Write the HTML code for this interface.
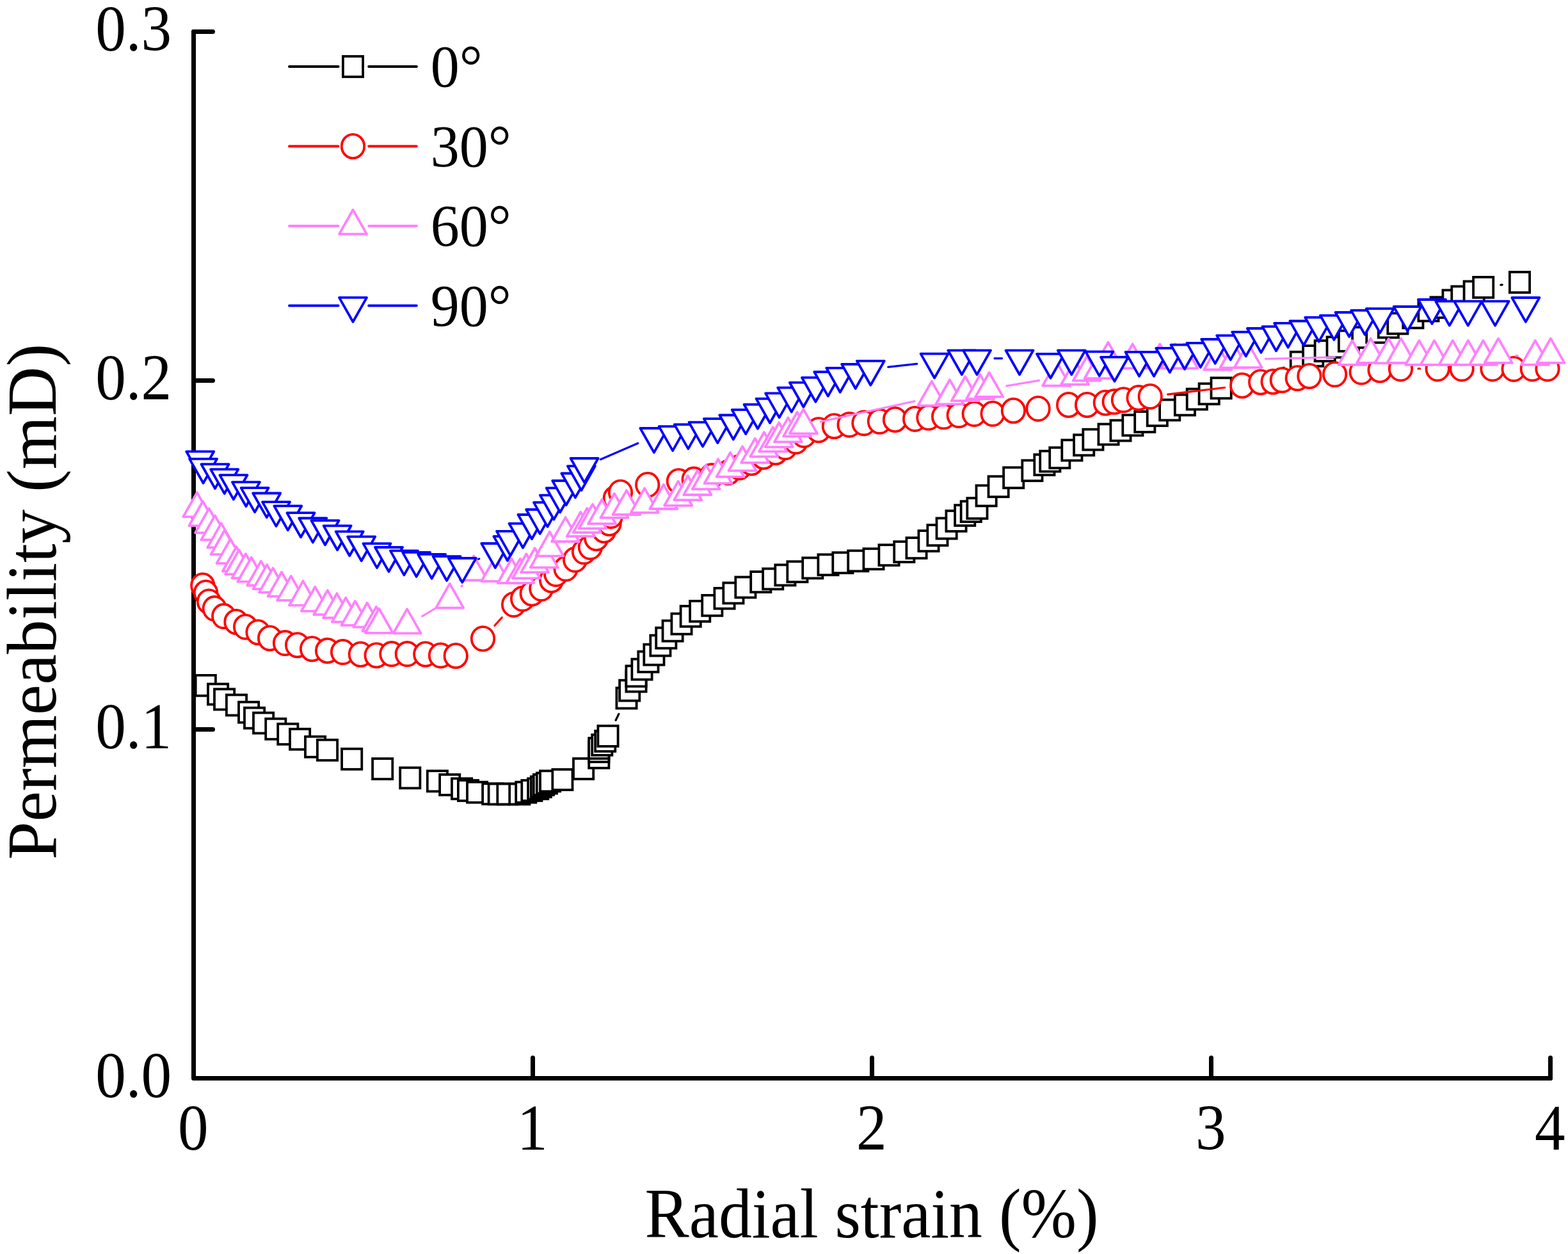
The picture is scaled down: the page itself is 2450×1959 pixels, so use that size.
<!DOCTYPE html>
<html lang="en"><head><meta charset="utf-8"><title>Permeability vs radial strain</title>
<style>
html,body{margin:0;padding:0;background:#fff;}
body{width:2450px;height:1959px;overflow:hidden;}
svg{display:block;}
text{font-family:"Liberation Serif", "DejaVu Serif", serif;fill:#000;}
.tk{font-size:102.4px;}
.ti{font-size:109.6px;}
.ti2{font-size:110.2px;}
.lg{font-size:93.8px;}
.ax{stroke:#000;stroke-width:7;fill:none;stroke-linecap:round;stroke-linejoin:round;}
.m{fill:#fff;stroke-width:3.8;stroke-linejoin:miter;}
.l{fill:none;stroke-width:3.2;stroke-linecap:round;}
.t{stroke-linejoin:round;}
.ll{stroke-width:3.9;}
.s0{stroke:#000;}.s1{stroke:#f00;}.s2{stroke:#ff80ff;}.s3{stroke:#00f;}
</style></head><body>
<svg width="2450" height="1959" viewBox="0 0 2450 1959" role="img" aria-label="Permeability (mD) versus radial strain (%) for bedding angles 0°, 30°, 60° and 90°">
<rect width="2450" height="1959" fill="#fff"/>
<g class="ax">
<path d="M302.5 49.5 V1684.5 H2422.5"/>
<path d="M302.5 1139.5 H332.5"/>
<path d="M302.5 594.5 H332.5"/>
<path d="M302.5 49.5 H332.5"/>
<path d="M832.5 1684.5 V1652.5"/>
<path d="M1362.5 1684.5 V1652.5"/>
<path d="M1892.5 1684.5 V1652.5"/>
<path d="M2422.5 1684.5 V1652.5"/>
</g>
<text class="tk" transform="translate(149.2 1714) scale(0.93 1)">0.0</text>
<text class="tk" transform="translate(149.2 1169) scale(0.93 1)">0.1</text>
<text class="tk" transform="translate(149.2 624) scale(0.93 1)">0.2</text>
<text class="tk" transform="translate(149.2 79) scale(0.93 1)">0.3</text>
<text class="tk" transform="translate(301.8 1796) scale(0.93 1)" text-anchor="middle">0</text>
<text class="tk" transform="translate(831.8 1796) scale(0.93 1)" text-anchor="middle">1</text>
<text class="tk" transform="translate(1361.8 1796) scale(0.93 1)" text-anchor="middle">2</text>
<text class="tk" transform="translate(1891.8 1796) scale(0.93 1)" text-anchor="middle">3</text>
<text class="tk" transform="translate(2421.8 1796) scale(0.93 1)" text-anchor="middle">4</text>
<text class="ti" transform="translate(1007.6 1933) scale(0.947 1)">Radial strain (%)</text>
<text class="ti2" transform="translate(87 1343) rotate(-90) scale(0.972 1)">Permeability (mD)</text>
<g>
<path class="l s0" d="M962.1 1125.2L966.9 1115.3M1934.3 597.8L2006.2 574.3M2344.9 445.1L2347.2 444.8"/>
<rect class="m s0" x="305.7" y="1054.9" width="31.2" height="32"/>
<rect class="m s0" x="325" y="1068.5" width="31.2" height="32"/>
<rect class="m s0" x="335" y="1076.5" width="31.2" height="32"/>
<rect class="m s0" x="353.9" y="1085.5" width="31.2" height="32"/>
<rect class="m s0" x="373" y="1096.7" width="31.2" height="32"/>
<rect class="m s0" x="382" y="1105.7" width="31.2" height="32"/>
<rect class="m s0" x="396" y="1113.5" width="31.2" height="32"/>
<rect class="m s0" x="415.2" y="1122.8" width="31.2" height="32"/>
<rect class="m s0" x="434.2" y="1130.8" width="31.2" height="32"/>
<rect class="m s0" x="453" y="1138.8" width="31.2" height="32"/>
<rect class="m s0" x="477" y="1150.7" width="31.2" height="32"/>
<rect class="m s0" x="495.9" y="1155.8" width="31.2" height="32"/>
<rect class="m s0" x="534.1" y="1169.8" width="31.2" height="32"/>
<rect class="m s0" x="582.1" y="1185.1" width="31.2" height="32"/>
<rect class="m s0" x="625.2" y="1199.3" width="31.2" height="32"/>
<rect class="m s0" x="667.8" y="1204.3" width="31.2" height="32"/>
<rect class="m s0" x="687.1" y="1210" width="31.2" height="32"/>
<rect class="m s0" x="706" y="1216.2" width="31.2" height="32"/>
<rect class="m s0" x="715.9" y="1219" width="31.2" height="32"/>
<rect class="m s0" x="730" y="1221.7" width="31.2" height="32"/>
<rect class="m s0" x="754.1" y="1224.2" width="31.2" height="32"/>
<rect class="m s0" x="763.6" y="1224.5" width="31.2" height="32"/>
<rect class="m s0" x="777.3" y="1224.5" width="31.2" height="32"/>
<rect class="m s0" x="796.2" y="1224.5" width="31.2" height="32"/>
<rect class="m s0" x="806.2" y="1221.7" width="31.2" height="32"/>
<rect class="m s0" x="815.3" y="1219" width="31.2" height="32"/>
<rect class="m s0" x="825.1" y="1216.2" width="31.2" height="32"/>
<rect class="m s0" x="829.8" y="1213.2" width="31.2" height="32"/>
<rect class="m s0" x="833.8" y="1210" width="31.2" height="32"/>
<rect class="m s0" x="838.8" y="1207.5" width="31.2" height="32"/>
<rect class="m s0" x="844" y="1204.3" width="31.2" height="32"/>
<rect class="m s0" x="863.3" y="1202" width="31.2" height="32"/>
<rect class="m s0" x="896" y="1185" width="31.2" height="32"/>
<rect class="m s0" x="920.2" y="1167.8" width="31.2" height="32"/>
<rect class="m s0" x="920.2" y="1158.3" width="31.2" height="32"/>
<rect class="m s0" x="920.2" y="1153" width="31.2" height="32"/>
<rect class="m s0" x="925.2" y="1147.8" width="31.2" height="32"/>
<rect class="m s0" x="930.1" y="1141.8" width="31.2" height="32"/>
<rect class="m s0" x="934.4" y="1133.9" width="31.2" height="32"/>
<rect class="m s0" x="963.4" y="1074.6" width="31.2" height="32"/>
<rect class="m s0" x="968.1" y="1062.7" width="31.2" height="32"/>
<rect class="m s0" x="978.4" y="1048.5" width="31.2" height="32"/>
<rect class="m s0" x="978.4" y="1040.3" width="31.2" height="32"/>
<rect class="m s0" x="987.4" y="1029.6" width="31.2" height="32"/>
<rect class="m s0" x="997.3" y="1017.8" width="31.2" height="32"/>
<rect class="m s0" x="1006.3" y="1006.7" width="31.2" height="32"/>
<rect class="m s0" x="1016.3" y="992.5" width="31.2" height="32"/>
<rect class="m s0" x="1025.2" y="980.7" width="31.2" height="32"/>
<rect class="m s0" x="1035.5" y="969.6" width="31.2" height="32"/>
<rect class="m s0" x="1049.4" y="958.6" width="31.2" height="32"/>
<rect class="m s0" x="1063.6" y="946.8" width="31.2" height="32"/>
<rect class="m s0" x="1078.1" y="938.9" width="31.2" height="32"/>
<rect class="m s0" x="1097.2" y="929.9" width="31.2" height="32"/>
<rect class="m s0" x="1116.4" y="918.8" width="31.2" height="32"/>
<rect class="m s0" x="1130.3" y="910.5" width="31.2" height="32"/>
<rect class="m s0" x="1149.3" y="901.5" width="31.2" height="32"/>
<rect class="m s0" x="1173.2" y="893.1" width="31.2" height="32"/>
<rect class="m s0" x="1192.1" y="888.4" width="31.2" height="32"/>
<rect class="m s0" x="1211.3" y="882.4" width="31.2" height="32"/>
<rect class="m s0" x="1230.3" y="877.2" width="31.2" height="32"/>
<rect class="m s0" x="1254.2" y="871.4" width="31.2" height="32"/>
<rect class="m s0" x="1278.4" y="866.3" width="31.2" height="32"/>
<rect class="m s0" x="1301.3" y="863.2" width="31.2" height="32"/>
<rect class="m s0" x="1325.2" y="860.3" width="31.2" height="32"/>
<rect class="m s0" x="1349.4" y="857.2" width="31.2" height="32"/>
<rect class="m s0" x="1373.4" y="851.2" width="31.2" height="32"/>
<rect class="m s0" x="1397.2" y="846.1" width="31.2" height="32"/>
<rect class="m s0" x="1416.4" y="840.1" width="31.2" height="32"/>
<rect class="m s0" x="1435.4" y="829.1" width="31.2" height="32"/>
<rect class="m s0" x="1449.3" y="820.1" width="31.2" height="32"/>
<rect class="m s0" x="1463.5" y="809.5" width="31.2" height="32"/>
<rect class="m s0" x="1478.4" y="798" width="31.2" height="32"/>
<rect class="m s0" x="1492.1" y="789.1" width="31.2" height="32"/>
<rect class="m s0" x="1501.6" y="783.1" width="31.2" height="32"/>
<rect class="m s0" x="1511.3" y="778.1" width="31.2" height="32"/>
<rect class="m s0" x="1525.5" y="758.4" width="31.2" height="32"/>
<rect class="m s0" x="1544.5" y="744.2" width="31.2" height="32"/>
<rect class="m s0" x="1568.1" y="730.3" width="31.2" height="32"/>
<rect class="m s0" x="1597.3" y="719.2" width="31.2" height="32"/>
<rect class="m s0" x="1616.3" y="710.1" width="31.2" height="32"/>
<rect class="m s0" x="1625.2" y="704.6" width="31.2" height="32"/>
<rect class="m s0" x="1640.2" y="699.2" width="31.2" height="32"/>
<rect class="m s0" x="1659.3" y="687.4" width="31.2" height="32"/>
<rect class="m s0" x="1678.1" y="679.3" width="31.2" height="32"/>
<rect class="m s0" x="1692.3" y="670.7" width="31.2" height="32"/>
<rect class="m s0" x="1716.4" y="662.5" width="31.2" height="32"/>
<rect class="m s0" x="1735.4" y="656.6" width="31.2" height="32"/>
<rect class="m s0" x="1754.3" y="648.3" width="31.2" height="32"/>
<rect class="m s0" x="1773.2" y="643" width="31.2" height="32"/>
<rect class="m s0" x="1792.7" y="633.2" width="31.2" height="32"/>
<rect class="m s0" x="1812.1" y="624.5" width="31.2" height="32"/>
<rect class="m s0" x="1835.8" y="616.6" width="31.2" height="32"/>
<rect class="m s0" x="1854.7" y="607.6" width="31.2" height="32"/>
<rect class="m s0" x="1873.6" y="599.3" width="31.2" height="32"/>
<rect class="m s0" x="1892.5" y="590.3" width="31.2" height="32"/>
<rect class="m s0" x="2016.7" y="549.7" width="31.2" height="32"/>
<rect class="m s0" x="2036.1" y="540.1" width="31.2" height="32"/>
<rect class="m s0" x="2054.6" y="532.2" width="31.2" height="32"/>
<rect class="m s0" x="2073.5" y="526.4" width="31.2" height="32"/>
<rect class="m s0" x="2091.9" y="516.7" width="31.2" height="32"/>
<rect class="m s0" x="2113.1" y="511.2" width="31.2" height="32"/>
<rect class="m s0" x="2135.3" y="503.3" width="31.2" height="32"/>
<rect class="m s0" x="2153.8" y="495.4" width="31.2" height="32"/>
<rect class="m s0" x="2168.3" y="489.4" width="31.2" height="32"/>
<rect class="m s0" x="2192.3" y="480.4" width="31.2" height="32"/>
<rect class="m s0" x="2216.4" y="469.5" width="31.2" height="32"/>
<rect class="m s0" x="2235.5" y="464.3" width="31.2" height="32"/>
<rect class="m s0" x="2254.4" y="453.3" width="31.2" height="32"/>
<rect class="m s0" x="2268.3" y="447.4" width="31.2" height="32"/>
<rect class="m s0" x="2287.6" y="439.5" width="31.2" height="32"/>
<rect class="m s0" x="2302.1" y="432.9" width="31.2" height="32"/>
<rect class="m s0" x="2358.9" y="425" width="31.2" height="32"/>
</g>
<g>
<path class="l s1" d="M772.9 977.3L784.2 964.8M1824.5 616.2L1913.5 605.5M2216 575.9L2218.7 575.9"/>
<ellipse class="m s1" cx="316.8" cy="914.8" rx="17.7" ry="18.6"/>
<ellipse class="m s1" cx="321.6" cy="926" rx="17.7" ry="18.6"/>
<ellipse class="m s1" cx="326.5" cy="939.9" rx="17.7" ry="18.6"/>
<ellipse class="m s1" cx="335.3" cy="950.6" rx="17.7" ry="18.6"/>
<ellipse class="m s1" cx="349.7" cy="962.6" rx="17.7" ry="18.6"/>
<ellipse class="m s1" cx="369" cy="971.5" rx="17.7" ry="18.6"/>
<ellipse class="m s1" cx="383.6" cy="979.3" rx="17.7" ry="18.6"/>
<ellipse class="m s1" cx="403.1" cy="987.7" rx="17.7" ry="18.6"/>
<ellipse class="m s1" cx="421.6" cy="997" rx="17.7" ry="18.6"/>
<ellipse class="m s1" cx="445.5" cy="1004.6" rx="17.7" ry="18.6"/>
<ellipse class="m s1" cx="464.6" cy="1007.7" rx="17.7" ry="18.6"/>
<ellipse class="m s1" cx="487.6" cy="1013.7" rx="17.7" ry="18.6"/>
<ellipse class="m s1" cx="511.6" cy="1016.5" rx="17.7" ry="18.6"/>
<ellipse class="m s1" cx="535.6" cy="1018.6" rx="17.7" ry="18.6"/>
<ellipse class="m s1" cx="563.4" cy="1022.2" rx="17.7" ry="18.6"/>
<ellipse class="m s1" cx="588.2" cy="1023.7" rx="17.7" ry="18.6"/>
<ellipse class="m s1" cx="611.9" cy="1021.6" rx="17.7" ry="18.6"/>
<ellipse class="m s1" cx="636.3" cy="1021.6" rx="17.7" ry="18.6"/>
<ellipse class="m s1" cx="664.8" cy="1022" rx="17.7" ry="18.6"/>
<ellipse class="m s1" cx="688.5" cy="1023.9" rx="17.7" ry="18.6"/>
<ellipse class="m s1" cx="712.2" cy="1024.5" rx="17.7" ry="18.6"/>
<ellipse class="m s1" cx="754.5" cy="997.7" rx="17.7" ry="18.6"/>
<ellipse class="m s1" cx="802.6" cy="944.4" rx="17.7" ry="18.6"/>
<ellipse class="m s1" cx="816.6" cy="935.3" rx="17.7" ry="18.6"/>
<ellipse class="m s1" cx="831.2" cy="927" rx="17.7" ry="18.6"/>
<ellipse class="m s1" cx="845.8" cy="919.3" rx="17.7" ry="18.6"/>
<ellipse class="m s1" cx="861.6" cy="906.2" rx="17.7" ry="18.6"/>
<ellipse class="m s1" cx="868.8" cy="896.6" rx="17.7" ry="18.6"/>
<ellipse class="m s1" cx="884.1" cy="888.3" rx="17.7" ry="18.6"/>
<ellipse class="m s1" cx="898.6" cy="874.3" rx="17.7" ry="18.6"/>
<ellipse class="m s1" cx="912.5" cy="861.8" rx="17.7" ry="18.6"/>
<ellipse class="m s1" cx="922.4" cy="854.6" rx="17.7" ry="18.6"/>
<ellipse class="m s1" cx="931.7" cy="840.7" rx="17.7" ry="18.6"/>
<ellipse class="m s1" cx="943.9" cy="828.5" rx="17.7" ry="18.6"/>
<ellipse class="m s1" cx="952.1" cy="817.5" rx="17.7" ry="18.6"/>
<ellipse class="m s1" cx="954.5" cy="805.9" rx="17.7" ry="18.6"/>
<ellipse class="m s1" cx="961.3" cy="778.3" rx="17.7" ry="18.6"/>
<ellipse class="m s1" cx="969.5" cy="769.2" rx="17.7" ry="18.6"/>
<ellipse class="m s1" cx="1011.7" cy="757.4" rx="17.7" ry="18.6"/>
<ellipse class="m s1" cx="1060.4" cy="751.8" rx="17.7" ry="18.6"/>
<ellipse class="m s1" cx="1084.1" cy="749.1" rx="17.7" ry="18.6"/>
<ellipse class="m s1" cx="1111.9" cy="743.6" rx="17.7" ry="18.6"/>
<ellipse class="m s1" cx="1137.9" cy="738" rx="17.7" ry="18.6"/>
<ellipse class="m s1" cx="1155.2" cy="730.1" rx="17.7" ry="18.6"/>
<ellipse class="m s1" cx="1174.2" cy="723" rx="17.7" ry="18.6"/>
<ellipse class="m s1" cx="1193.1" cy="713.5" rx="17.7" ry="18.6"/>
<ellipse class="m s1" cx="1212" cy="706.5" rx="17.7" ry="18.6"/>
<ellipse class="m s1" cx="1227" cy="698.6" rx="17.7" ry="18.6"/>
<ellipse class="m s1" cx="1243.6" cy="689.6" rx="17.7" ry="18.6"/>
<ellipse class="m s1" cx="1256.2" cy="679.6" rx="17.7" ry="18.6"/>
<ellipse class="m s1" cx="1279.1" cy="671.7" rx="17.7" ry="18.6"/>
<ellipse class="m s1" cx="1303.4" cy="665.7" rx="17.7" ry="18.6"/>
<ellipse class="m s1" cx="1327.1" cy="663.4" rx="17.7" ry="18.6"/>
<ellipse class="m s1" cx="1349.9" cy="660.9" rx="17.7" ry="18.6"/>
<ellipse class="m s1" cx="1374.4" cy="658.3" rx="17.7" ry="18.6"/>
<ellipse class="m s1" cx="1398.5" cy="655.5" rx="17.7" ry="18.6"/>
<ellipse class="m s1" cx="1429.6" cy="654.4" rx="17.7" ry="18.6"/>
<ellipse class="m s1" cx="1450.9" cy="652.3" rx="17.7" ry="18.6"/>
<ellipse class="m s1" cx="1474.6" cy="650.8" rx="17.7" ry="18.6"/>
<ellipse class="m s1" cx="1498.2" cy="648.6" rx="17.7" ry="18.6"/>
<ellipse class="m s1" cx="1522.2" cy="646.6" rx="17.7" ry="18.6"/>
<ellipse class="m s1" cx="1551.1" cy="646.3" rx="17.7" ry="18.6"/>
<ellipse class="m s1" cx="1583.4" cy="641.5" rx="17.7" ry="18.6"/>
<ellipse class="m s1" cx="1622.1" cy="638.4" rx="17.7" ry="18.6"/>
<ellipse class="m s1" cx="1669.6" cy="632.5" rx="17.7" ry="18.6"/>
<ellipse class="m s1" cx="1698.6" cy="632.5" rx="17.7" ry="18.6"/>
<ellipse class="m s1" cx="1727.3" cy="629.2" rx="17.7" ry="18.6"/>
<ellipse class="m s1" cx="1741.2" cy="627.6" rx="17.7" ry="18.6"/>
<ellipse class="m s1" cx="1755.4" cy="624.8" rx="17.7" ry="18.6"/>
<ellipse class="m s1" cx="1779.1" cy="621.5" rx="17.7" ry="18.6"/>
<ellipse class="m s1" cx="1797.2" cy="619.4" rx="17.7" ry="18.6"/>
<ellipse class="m s1" cx="1940.8" cy="602.2" rx="17.7" ry="18.6"/>
<ellipse class="m s1" cx="1969.7" cy="597" rx="17.7" ry="18.6"/>
<ellipse class="m s1" cx="1989.1" cy="596.2" rx="17.7" ry="18.6"/>
<ellipse class="m s1" cx="2003.3" cy="593.8" rx="17.7" ry="18.6"/>
<ellipse class="m s1" cx="2027.3" cy="590.7" rx="17.7" ry="18.6"/>
<ellipse class="m s1" cx="2045.9" cy="587.5" rx="17.7" ry="18.6"/>
<ellipse class="m s1" cx="2085.6" cy="584.8" rx="17.7" ry="18.6"/>
<ellipse class="m s1" cx="2127.2" cy="581.1" rx="17.7" ry="18.6"/>
<ellipse class="m s1" cx="2156.1" cy="578" rx="17.7" ry="18.6"/>
<ellipse class="m s1" cx="2188.5" cy="575.9" rx="17.7" ry="18.6"/>
<ellipse class="m s1" cx="2246.2" cy="575.9" rx="17.7" ry="18.6"/>
<ellipse class="m s1" cx="2284.1" cy="575.9" rx="17.7" ry="18.6"/>
<ellipse class="m s1" cx="2332" cy="575.9" rx="17.7" ry="18.6"/>
<ellipse class="m s1" cx="2365.2" cy="576.4" rx="17.7" ry="18.6"/>
<ellipse class="m s1" cx="2394.3" cy="575.9" rx="17.7" ry="18.6"/>
<ellipse class="m s1" cx="2418" cy="575.9" rx="17.7" ry="18.6"/>
</g>
<g>
<path class="l s2" d="M659.8 962.6L679.1 951.1M720.8 916.2L722.2 914.6M1282.3 658.8L1428.9 626.8M1572.8 602.8L1623.5 594.4M1977.7 560.7L2085.4 558M2368.6 555.6L2371.3 555.8"/>
<path class="m t s2" d="M307.8 769.4L329.3 807.3H286.3Z"/>
<path class="m t s2" d="M316.9 783.3L338.4 821.3H295.4Z"/>
<path class="m t s2" d="M326.6 794.4L348.1 832.4H305.1Z"/>
<path class="m t s2" d="M335.8 805.4L357.3 843.4H314.3Z"/>
<path class="m t s2" d="M345.7 817.4L367.2 855.4H324.2Z"/>
<path class="m t s2" d="M351 828.3L372.5 866.2H329.5Z"/>
<path class="m t s2" d="M360 842.2L381.5 880.1H338.5Z"/>
<path class="m t s2" d="M369.4 854.3L390.9 892.3H347.9Z"/>
<path class="m t s2" d="M373.5 859.2L395 897.1H352Z"/>
<path class="m t s2" d="M383.9 865.2L405.4 903.1H362.4Z"/>
<path class="m t s2" d="M392.8 870.7L414.3 908.7H371.3Z"/>
<path class="m t s2" d="M407.8 876.6L429.3 914.5H386.3Z"/>
<path class="m t s2" d="M417.1 882.1L438.6 920.1H395.6Z"/>
<path class="m t s2" d="M426.5 887.4L448 925.4H405Z"/>
<path class="m t s2" d="M440.1 893.7L461.6 931.7H418.6Z"/>
<path class="m t s2" d="M454.7 900L476.2 937.9H433.2Z"/>
<path class="m t s2" d="M473.5 907.6L495 945.6H452Z"/>
<path class="m t s2" d="M492.3 916.7L513.8 954.6H470.8Z"/>
<path class="m t s2" d="M511.8 922.2L533.3 960.2H490.3Z"/>
<path class="m t s2" d="M526.4 927.1L547.9 965.1H504.9Z"/>
<path class="m t s2" d="M540.3 933.7L561.8 971.6H518.8Z"/>
<path class="m t s2" d="M554.9 939L576.4 976.9H533.4Z"/>
<path class="m t s2" d="M573.7 941.8L595.2 979.7H552.2Z"/>
<path class="m t s2" d="M587.8 947.9L609.3 985.8H566.3Z"/>
<path class="m t s2" d="M592.3 950.8L613.8 988.8H570.8Z"/>
<path class="m t s2" d="M636.1 951.4L657.6 989.3H614.6Z"/>
<path class="m t s2" d="M702.7 911.7L724.2 949.6H681.2Z"/>
<path class="m t s2" d="M740.3 868.5L761.8 906.5H718.8Z"/>
<path class="m t s2" d="M773.7 870.2L795.2 908.1H752.2Z"/>
<path class="m t s2" d="M799.4 872.8L820.9 910.8H777.9Z"/>
<path class="m t s2" d="M812.7 873L834.2 910.9H791.2Z"/>
<path class="m t s2" d="M822.4 865.3L843.9 903.3H800.9Z"/>
<path class="m t s2" d="M835.6 856.3L857.1 894.2H814.1Z"/>
<path class="m t s2" d="M850.3 848.6L871.8 886.6H828.8Z"/>
<path class="m t s2" d="M858.9 830.7L880.4 868.7H837.4Z"/>
<path class="m t s2" d="M883.6 808.1L905.1 846H862.1Z"/>
<path class="m t s2" d="M907.2 800L928.7 837.9H885.7Z"/>
<path class="m t s2" d="M917.3 793.9L938.8 831.9H895.8Z"/>
<path class="m t s2" d="M926 787.8L947.5 825.7H904.5Z"/>
<path class="m t s2" d="M940.6 780.2L962.1 818.2H919.1Z"/>
<path class="m t s2" d="M960 771L981.5 808.9H938.5Z"/>
<path class="m t s2" d="M979 766.1L1000.5 804H957.5Z"/>
<path class="m t s2" d="M1007.2 762.8L1028.7 800.8H985.7Z"/>
<path class="m t s2" d="M1036.8 757L1058.3 795H1015.3Z"/>
<path class="m t s2" d="M1059.7 751.8L1081.2 789.8H1038.2Z"/>
<path class="m t s2" d="M1074.8 743.2L1096.3 781.2H1053.3Z"/>
<path class="m t s2" d="M1089.8 735L1111.3 773H1068.3Z"/>
<path class="m t s2" d="M1103.2 726.2L1124.7 764.2H1081.7Z"/>
<path class="m t s2" d="M1122.1 717.2L1143.6 755.2H1100.6Z"/>
<path class="m t s2" d="M1141.1 707L1162.6 744.9H1119.6Z"/>
<path class="m t s2" d="M1160 697.5L1181.5 735.4H1138.5Z"/>
<path class="m t s2" d="M1179.7 684.9L1201.2 722.8H1158.2Z"/>
<path class="m t s2" d="M1193.9 675.3L1215.4 713.3H1172.4Z"/>
<path class="m t s2" d="M1207.6 667.4L1229.1 705.4H1186.1Z"/>
<path class="m t s2" d="M1217.2 660.3L1238.7 698.3H1195.7Z"/>
<path class="m t s2" d="M1231.4 652.4L1252.9 690.4H1209.9Z"/>
<path class="m t s2" d="M1245.6 643.8L1267.1 681.7H1224.1Z"/>
<path class="m t s2" d="M1255.4 639.3L1276.9 677.3H1233.9Z"/>
<path class="m t s2" d="M1455.8 595.6L1477.3 633.6H1434.3Z"/>
<path class="m t s2" d="M1483.9 593.3L1505.4 631.3H1462.4Z"/>
<path class="m t s2" d="M1508.2 588.3L1529.7 626.2H1486.7Z"/>
<path class="m t s2" d="M1531.5 585.1L1553 623.1H1510Z"/>
<path class="m t s2" d="M1545.7 582L1567.2 619.9H1524.2Z"/>
<path class="m t s2" d="M1650.6 564.6L1672.1 602.6H1629.1Z"/>
<path class="m t s2" d="M1679.5 562.7L1701 600.7H1658Z"/>
<path class="m t s2" d="M1698.3 556.7L1719.8 594.7H1676.8Z"/>
<path class="m t s2" d="M1716.1 553.2L1737.6 591.2H1694.6Z"/>
<path class="m t s2" d="M1731.5 534.7L1753 572.7H1710Z"/>
<path class="m t s2" d="M1769.6 537.5L1791.1 575.4H1748.1Z"/>
<path class="m t s2" d="M1812.4 537.5L1833.9 575.4H1790.9Z"/>
<path class="m t s2" d="M1836.1 537.5L1857.6 575.4H1814.6Z"/>
<path class="m t s2" d="M1850 537.5L1871.5 575.4H1828.5Z"/>
<path class="m t s2" d="M1902.9 539.6L1924.4 577.5H1881.4Z"/>
<path class="m t s2" d="M1927.9 536.8L1949.4 574.7H1906.4Z"/>
<path class="m t s2" d="M1950.2 536.1L1971.7 574.1H1928.7Z"/>
<path class="m t s2" d="M2112.9 532L2134.4 569.9H2091.4Z"/>
<path class="m t s2" d="M2141.7 528.8L2163.2 566.8H2120.2Z"/>
<path class="m t s2" d="M2169.7 529.3L2191.2 567.3H2148.2Z"/>
<path class="m t s2" d="M2189.1 528.8L2210.6 566.8H2167.6Z"/>
<path class="m t s2" d="M2217.5 532L2239 569.9H2196Z"/>
<path class="m t s2" d="M2241.1 532L2262.6 569.9H2219.6Z"/>
<path class="m t s2" d="M2269.9 532L2291.4 569.9H2248.4Z"/>
<path class="m t s2" d="M2294 532L2315.5 569.9H2272.5Z"/>
<path class="m t s2" d="M2317.5 532L2339 569.9H2296Z"/>
<path class="m t s2" d="M2341.2 528.8L2362.7 566.8H2319.7Z"/>
<path class="m t s2" d="M2398.8 532L2420.3 569.9H2377.3Z"/>
<path class="m t s2" d="M2422.9 528.8L2444.4 566.8H2401.4Z"/>
</g>
<g>
<path class="l s3" d="M747.4 873.4L748.7 872.9M938.3 717.7L996.7 692.5M1387.7 573.4L1432.7 568.3M1554 559.9L1565.5 559.9"/>
<path class="m t s3" d="M312.7 743.3L334.2 705.3H291.2Z"/>
<path class="m t s3" d="M317.6 754.8L339.1 716.9H296.1Z"/>
<path class="m t s3" d="M336 763.2L357.5 725.2H314.5Z"/>
<path class="m t s3" d="M350.7 771.1L372.2 733.2H329.2Z"/>
<path class="m t s3" d="M364.9 780.2L386.4 742.2H343.4Z"/>
<path class="m t s3" d="M384.4 791L405.9 753.1H362.9Z"/>
<path class="m t s3" d="M398.1 800.1L419.6 762.1H376.6Z"/>
<path class="m t s3" d="M416.7 808.4L438.2 770.5H395.2Z"/>
<path class="m t s3" d="M431.5 822.1L453 784.1H410Z"/>
<path class="m t s3" d="M449.8 828.2L471.3 790.3H428.3Z"/>
<path class="m t s3" d="M470 839.2L491.5 801.2H448.5Z"/>
<path class="m t s3" d="M488.8 847.4L510.3 809.5H467.3Z"/>
<path class="m t s3" d="M508 851.2L529.5 813.2H486.5Z"/>
<path class="m t s3" d="M527.1 859.2L548.6 821.3H505.6Z"/>
<path class="m t s3" d="M546.2 868.3L567.7 830.3H524.7Z"/>
<path class="m t s3" d="M564.7 876.2L586.2 838.3H543.2Z"/>
<path class="m t s3" d="M589 887.1L610.5 849.1H567.5Z"/>
<path class="m t s3" d="M607.5 893L629 855H586Z"/>
<path class="m t s3" d="M631.4 898.4L652.9 860.4H609.9Z"/>
<path class="m t s3" d="M650.6 900.9L672.1 862.9H629.1Z"/>
<path class="m t s3" d="M674.6 903.8L696.1 865.9H653.1Z"/>
<path class="m t s3" d="M698 907L719.5 869.1H676.5Z"/>
<path class="m t s3" d="M722.3 909.9L743.8 872H700.8Z"/>
<path class="m t s3" d="M773.8 887L795.3 849H752.3Z"/>
<path class="m t s3" d="M792.9 875.8L814.4 837.9H771.4Z"/>
<path class="m t s3" d="M797.5 867.9L819 829.9H776Z"/>
<path class="m t s3" d="M817 855.8L838.5 817.8H795.5Z"/>
<path class="m t s3" d="M831 842L852.5 804H809.5Z"/>
<path class="m t s3" d="M843.7 833.9L865.2 796H822.2Z"/>
<path class="m t s3" d="M855.5 822.9L877 784.9H834Z"/>
<path class="m t s3" d="M865.4 811.5L886.9 773.6H843.9Z"/>
<path class="m t s3" d="M875.2 800.3L896.7 762.4H853.7Z"/>
<path class="m t s3" d="M884.7 789L906.2 751H863.2Z"/>
<path class="m t s3" d="M898.9 777.4L920.4 739.5H877.4Z"/>
<path class="m t s3" d="M908.4 766.1L929.9 728.1H886.9Z"/>
<path class="m t s3" d="M913.1 753.9L934.6 716H891.6Z"/>
<path class="m t s3" d="M1021.9 706.9L1043.4 669H1000.4Z"/>
<path class="m t s3" d="M1051.1 704.1L1072.6 666.1H1029.6Z"/>
<path class="m t s3" d="M1075.3 701.1L1096.8 663.1H1053.8Z"/>
<path class="m t s3" d="M1098 697.6L1119.5 659.7H1076.5Z"/>
<path class="m t s3" d="M1121.3 692.1L1142.8 654.1H1099.8Z"/>
<path class="m t s3" d="M1145.8 686.5L1167.3 648.5H1124.3Z"/>
<path class="m t s3" d="M1165.2 678.1L1186.7 640.2H1143.7Z"/>
<path class="m t s3" d="M1184 669.7L1205.5 631.8H1162.5Z"/>
<path class="m t s3" d="M1203 660.8L1224.5 622.8H1181.5Z"/>
<path class="m t s3" d="M1217.6 652.4L1239.1 614.4H1196.1Z"/>
<path class="m t s3" d="M1236.7 643.6L1258.2 605.6H1215.2Z"/>
<path class="m t s3" d="M1255.4 635.7L1276.9 597.7H1233.9Z"/>
<path class="m t s3" d="M1274.4 627.8L1295.9 589.8H1252.9Z"/>
<path class="m t s3" d="M1293.8 618.9L1315.3 581H1272.3Z"/>
<path class="m t s3" d="M1312.7 612.8L1334.2 574.8H1291.2Z"/>
<path class="m t s3" d="M1336.7 607L1358.2 569H1315.2Z"/>
<path class="m t s3" d="M1360.3 601.7L1381.8 563.8H1338.8Z"/>
<path class="m t s3" d="M1460.1 590.5L1481.6 552.6H1438.6Z"/>
<path class="m t s3" d="M1502.8 585.2L1524.3 547.3H1481.3Z"/>
<path class="m t s3" d="M1526.5 585.2L1548 547.3H1505Z"/>
<path class="m t s3" d="M1593 585.2L1614.5 547.3H1571.5Z"/>
<path class="m t s3" d="M1641.5 590.8L1663 552.8H1620Z"/>
<path class="m t s3" d="M1674.3 585.2L1695.8 547.3H1652.8Z"/>
<path class="m t s3" d="M1717.8 587.4L1739.3 549.4H1696.3Z"/>
<path class="m t s3" d="M1741.5 595.7L1763 557.8H1720Z"/>
<path class="m t s3" d="M1780 587.8L1801.5 549.9H1758.5Z"/>
<path class="m t s3" d="M1803 587.8L1824.5 549.9H1781.5Z"/>
<path class="m t s3" d="M1827.8 581.8L1849.3 543.9H1806.3Z"/>
<path class="m t s3" d="M1851 576.7L1872.5 538.7H1829.5Z"/>
<path class="m t s3" d="M1875.8 573.9L1897.3 535.9H1854.3Z"/>
<path class="m t s3" d="M1898.7 567.9L1920.2 530H1877.2Z"/>
<path class="m t s3" d="M1922.7 562.1L1944.2 524.1H1901.2Z"/>
<path class="m t s3" d="M1946.7 556.5L1968.2 518.6H1925.2Z"/>
<path class="m t s3" d="M1970.4 550.9L1991.9 513H1948.9Z"/>
<path class="m t s3" d="M1994 548.2L2015.5 510.2H1972.5Z"/>
<path class="m t s3" d="M2012.6 542.8L2034.1 504.8H1991.1Z"/>
<path class="m t s3" d="M2036.9 539.5L2058.4 501.5H2015.4Z"/>
<path class="m t s3" d="M2060.7 533.8L2082.2 495.8H2039.2Z"/>
<path class="m t s3" d="M2084.4 530.8L2105.9 492.8H2062.9Z"/>
<path class="m t s3" d="M2108.1 526L2129.6 488H2086.6Z"/>
<path class="m t s3" d="M2132.6 522.8L2154.1 484.9H2111.1Z"/>
<path class="m t s3" d="M2156.3 520.1L2177.8 482.2H2134.8Z"/>
<path class="m t s3" d="M2199.2 517L2220.7 479H2177.7Z"/>
<path class="m t s3" d="M2237.5 505.9L2259 468H2216Z"/>
<path class="m t s3" d="M2264.8 508.6L2286.3 470.7H2243.3Z"/>
<path class="m t s3" d="M2293.8 508.6L2315.3 470.7H2272.3Z"/>
<path class="m t s3" d="M2336.1 508.6L2357.6 470.7H2314.6Z"/>
<path class="m t s3" d="M2383.9 502.9L2405.4 465H2362.4Z"/>
</g>
<path class="l ll s0" d="M452 104H528.6M576.2 104H650.9"/>
<rect class="m s0" x="535.9" y="88" width="31.2" height="32"/>
<text class="lg" transform="translate(672.7 135.2) scale(0.96 1)">0°</text>
<path class="l ll s1" d="M452 228.5H528.6M576.2 228.5H650.9"/>
<ellipse class="m s1" cx="551.5" cy="228.5" rx="17.7" ry="18.6"/>
<text class="lg" transform="translate(672.7 259.7) scale(0.96 1)">30°</text>
<path class="l ll s2" d="M452 353H528.6M576.2 353H650.9"/>
<path class="m t s2" d="M551.5 327.7L573 365.6H530Z"/>
<text class="lg" transform="translate(672.7 384.2) scale(0.96 1)">60°</text>
<path class="l ll s3" d="M452 477.5H528.6M576.2 477.5H650.9"/>
<path class="m t s3" d="M551.5 502.8L573 464.9H530Z"/>
<text class="lg" transform="translate(672.7 508.7) scale(0.96 1)">90°</text>
</svg></body></html>
